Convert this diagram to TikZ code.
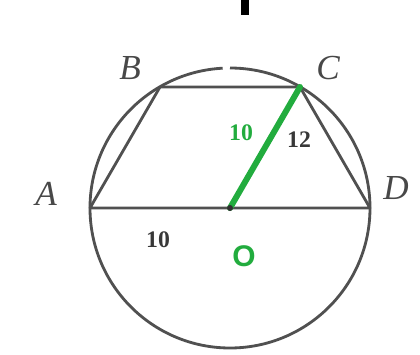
\documentclass[tikz,border=0pt]{standalone}
\usepackage{fontspec}
\setmainfont{Liberation Serif}
\setsansfont{Liberation Sans}
\definecolor{kreis}{RGB}{80,80,80}
\definecolor{gruen}{RGB}{34,172,62}
\begin{document}
\begin{tikzpicture}[line cap=round,line join=round,x=0.02cm,y=-0.02cm,
		seite/.style={color=kreis,line width=1.6pt},
		punkt/.style={font=\fontsize{20}{20}\selectfont\itshape,color=kreis!90!black},
		zahl/.style={font=\fontsize{13.5}{13.5}\selectfont\bfseries}]
		\useasboundingbox (0,0) rectangle (420,355);
		\fill[black] (241,0) rectangle (249,15);

		% Punkte
		\coordinate (O) at (230,208);
		\coordinate (A) at (90,208);
		\coordinate (B) at (160,87);
		\coordinate (C) at (300,87);
		\coordinate (D) at (370,208);

		% Kreis mit kleiner Luecke oben
		\draw[seite,line cap=butt] (O) ++(270:140) arc (270:627:140);

		% Trapez ABCD
		\draw[seite] (A) -- (B) -- (C) -- (D) -- (A);

		% Radius OC
		\draw[color=gruen,line width=3.4pt] (O) -- (C);
		\fill[kreis!60!black] (O) circle (3);

		\node[punkt] (labA) at (46,194) {A};
		\node[punkt] (labB) at (130,68) {B};
		\node[punkt] (labC) at (328,68) {C};
		\node[punkt] (labD) at (396,188) {D};
		\node[zahl,color=gruen] (labOC) at (241,133) {10};
		\node[zahl,color=kreis!70!black] (labCD) at (299,140) {12};
		\node[zahl,color=kreis!70!black] (labAO) at (158,240) {10};
		\node[color=gruen,font=\fontsize{17}{17}\selectfont\sffamily\bfseries] (labO) at (244,256) {O};
	\end{tikzpicture}
\end{document}
